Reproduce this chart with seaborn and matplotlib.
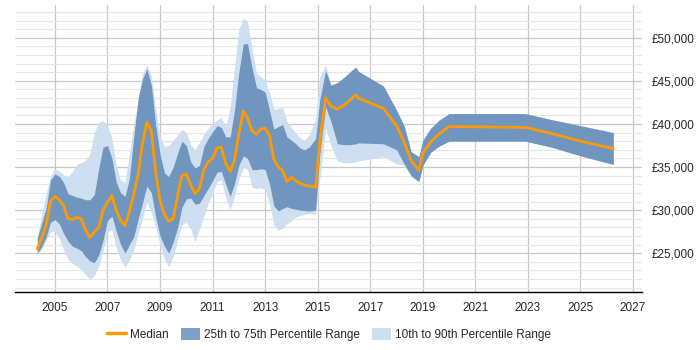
import numpy as np
import pandas as pd
import seaborn as sns
import matplotlib.pyplot as plt
from matplotlib.lines import Line2D
from matplotlib.patches import Patch
from matplotlib.ticker import MultipleLocator, FuncFormatter

# Values
years = [2004.33, 2004.5, 2004.67, 2004.83, 2005.0, 2005.17, 2005.33, 2005.5, 2005.67, 2005.83,
         2006.0, 2006.17, 2006.33, 2006.5, 2006.67, 2006.83, 2007.0, 2007.17, 2007.33, 2007.5,
         2007.67, 2007.83, 2008.0, 2008.17, 2008.33, 2008.5, 2008.67, 2008.83, 2009.0, 2009.17,
         2009.33, 2009.5, 2009.67, 2009.83, 2010.0, 2010.17, 2010.33, 2010.5, 2010.67, 2010.83,
         2011.0, 2011.17, 2011.33, 2011.5, 2011.67, 2011.83, 2012.0, 2012.17, 2012.33, 2012.5,
         2012.67, 2012.83, 2013.0, 2013.17, 2013.33, 2013.5, 2013.67, 2013.83, 2014.0, 2014.17,
         2014.33, 2014.5, 2014.67, 2014.92, 2015.08, 2015.3, 2015.5, 2015.75, 2016.0, 2016.25,
         2016.45, 2016.55, 2017.5, 2018.0, 2018.3, 2018.55, 2018.85, 2019.0, 2019.3, 2019.6,
         2020.0, 2022.9, 2023.9, 2025.0, 2026.25]

median = [25500, 26800, 28300, 31000, 31600, 31200, 30500, 29000, 28900, 29200,
          29000, 27700, 26800, 27500, 28000, 30000, 30900, 31700, 30000, 28800,
          28200, 29800, 31800, 34200, 37700, 40200, 39200, 34500, 31100, 29500,
          28700, 29000, 31700, 34000, 34200, 32900, 31900, 32500, 34700, 35600,
          36000, 37200, 37300, 35400, 34500, 35700, 38900, 41500, 40700, 39200,
          38800, 39400, 39500, 38600, 35900, 35000, 34600, 33300, 33800, 33400,
          33100, 32900, 32800, 32650, 38000, 43000, 42100, 41700, 42200, 42800,
          43400, 43000, 41800, 39800, 37800, 35800, 34600, 36600, 37900, 38800,
          39700, 39600, 38900, 38000, 37150]

p75 = [26800, 28500, 30300, 33500, 34200, 33900, 33200, 31900, 31700, 31500,
       31400, 31200, 31200, 31800, 34900, 37300, 37500, 36000, 33300, 32000,
       31600, 33600, 38500, 43000, 45200, 46400, 44500, 40000, 36500, 34300,
       33900, 35000, 36600, 38000, 37500, 35600, 34900, 35200, 37400, 38300,
       39100, 39800, 39600, 38500, 38500, 41500, 46000, 49300, 49300, 46500,
       44200, 44000, 43700, 41500, 39400, 39700, 39900, 38500, 38100, 37700,
       37200, 37000, 37300, 38300, 42800, 46200, 44500, 44800, 45400, 46100,
       46600, 46100, 44400, 41600, 39700, 36800, 36200, 38100, 39500, 40400,
       41200, 41200, 40500, 39800, 39000]

p25 = [25000, 25800, 26900, 28600, 28900, 28400, 27300, 26400, 25800, 25600,
       25300, 24600, 24100, 23900, 24800, 26500, 28800, 29300, 27600, 26000,
       25000, 26000, 26900, 29000, 30800, 32800, 32000, 29300, 27000, 25800,
       25000, 26300, 28000, 30300, 31300, 31400, 30700, 30800, 31700, 32500,
       33400, 34400, 34500, 33000, 31600, 33000, 35200, 36300, 36000, 34700,
       34700, 34800, 34700, 33000, 30500, 29900, 30200, 30400, 30200, 30100,
       30000, 29950, 29900, 30000, 36500, 42000, 40300, 37700, 37600, 37600,
       37700, 37800, 37700, 37000, 35300, 34000, 33300, 35200, 36700, 37400,
       38000, 38000, 37300, 36300, 35300]

p90 = [27000, 29500, 32000, 33900, 34800, 34500, 34100, 33800, 34500, 35300,
       35500, 35800, 36500, 39000, 40200, 40400, 39900, 38300, 35200, 33500,
       33200, 36500, 39900, 42800, 45800, 46900, 45600, 41800, 38500, 37400,
       37500, 38100, 38700, 39400, 39000, 37600, 37000, 37900, 38800, 39500,
       40000, 40500, 40700, 39700, 42000, 46500, 51000, 52300, 51800, 48700,
       45900, 45500, 45000, 43600, 41700, 41800, 41900, 40300, 39600, 38900,
       38400, 38100, 38700, 40500, 45500, 46800, 44500, 44800, 45400, 46100,
       46600, 46100, 44400, 41600, 39700, 36800, 36200, 38100, 39500, 40400,
       41200, 41200, 40500, 39800, 39000]

p10 = [24800, 25500, 26500, 27500, 27500, 26700, 25400, 24300, 23800, 23500,
       23100, 22500, 22000, 22400, 23500, 25300, 27500, 27700, 25700, 24200,
       23400, 24200, 25400, 27300, 29000, 31000, 29700, 28100, 26000, 24300,
       23400, 24600, 26500, 28300, 28600, 27800, 26300, 27800, 29300, 30800,
       31900, 33300, 33500, 31400, 30100, 31600, 33500, 35000, 34700, 32700,
       32500, 32600, 32400, 30600, 28300, 27700, 27900, 28400, 28800, 29200,
       29400, 29500, 29600, 29500, 33500, 39500, 37500, 35700, 35500, 35500,
       35600, 35700, 36200, 35400, 35200, 34000, 33300, 35200, 36700, 37400,
       38000, 38000, 37300, 36300, 35300]

df = pd.DataFrame({"year": years, "median": median, "p25": p25, "p75": p75,
                   "p10": p10, "p90": p90})

light = "#cddff0"
dark = "#7096c0"
orange = "#ff9900"

sns.set_style("white")
plt.rcParams["font.family"] = ["Liberation Sans", "DejaVu Sans"]

fig = plt.figure(figsize=(7, 3.5), dpi=100)
ax = fig.add_axes([0.0214, 0.1657, 0.8957, 0.82])

ax.fill_between(df["year"], df["p10"], df["p90"], color=light, linewidth=0, zorder=2)
ax.fill_between(df["year"], df["p25"], df["p75"], color=dark, linewidth=0, zorder=3)
sns.lineplot(data=df, x="year", y="median", color=orange, linewidth=2, ax=ax, zorder=4)

ax.set_xlim(2003.48, 2027.34)
ax.set_ylim(20500, 53800)
ax.set_xticks(range(2005, 2028, 2))
ax.yaxis.set_major_locator(MultipleLocator(5000))
ax.yaxis.set_minor_locator(MultipleLocator(1000))
ax.yaxis.tick_right()
ax.yaxis.set_major_formatter(FuncFormatter(lambda v, p: f"£{int(v):,}"))
ax.grid(which="major", axis="both", color="#c8c8c8", linewidth=0.9, zorder=0)
ax.grid(which="minor", axis="y", color="#e6e6e6", linewidth=0.8, zorder=0)
ax.set_axisbelow(True)
for s in ["top", "right", "left"]:
    ax.spines[s].set_visible(False)
ax.spines["bottom"].set_color("#000000")
ax.spines["bottom"].set_linewidth(1)
ax.tick_params(axis="x", length=4, width=0.8, color="#333333", labelsize=8.5, pad=3)
ax.tick_params(axis="y", which="both", length=0, labelsize=8.5, pad=7)
ax.set_xlabel("")
ax.set_ylabel("")

handles = [Line2D([0], [0], color=orange, linewidth=2.5),
           Patch(facecolor="#7f9fc4", edgecolor="none"),
           Patch(facecolor=light, edgecolor="none")]
labels = ["Median", "25th to 75th Percentile Range", "10th to 90th Percentile Range"]
fig.legend(handles, labels, loc="center", bbox_to_anchor=(0.47, 0.045), ncol=3,
           frameon=False, fontsize=8.5, handlelength=1.6, handleheight=1.2,
           columnspacing=1.05, handletextpad=0.35)

fig.savefig("out.png", dpi=100)
